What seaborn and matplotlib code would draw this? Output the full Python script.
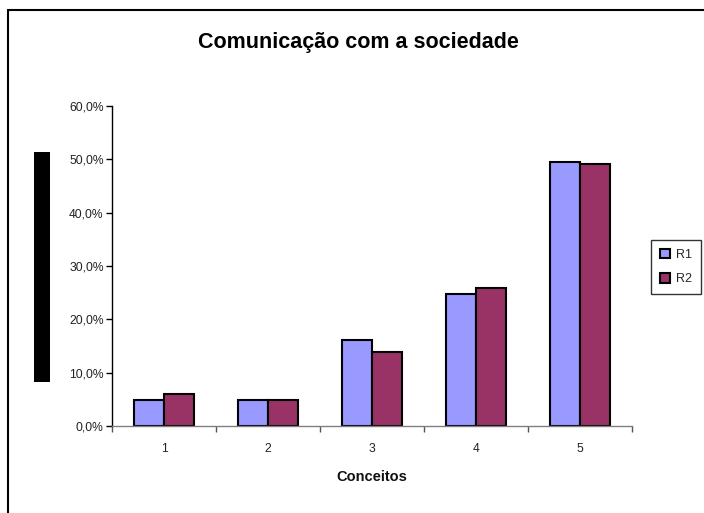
import matplotlib
matplotlib.use("Agg")
import matplotlib.pyplot as plt
import seaborn as sns
import pandas as pd
from matplotlib.patches import Rectangle
from matplotlib.lines import Line2D
from matplotlib.ticker import FuncFormatter, FixedLocator

categories = ["1", "2", "3", "4", "5"]
r1_values = [0.049, 0.049, 0.161, 0.248, 0.495]
r2_values = [0.060, 0.049, 0.139, 0.259, 0.492]
series_names = ["R1", "R2"]
colors = {"R1": "#9999FF", "R2": "#993366"}
y_ticks = [0.0, 0.1, 0.2, 0.3, 0.4, 0.5, 0.6]

df = pd.DataFrame({
    "Conceitos": categories * 2,
    "Valor": r1_values + r2_values,
    "Serie": ["R1"] * len(categories) + ["R2"] * len(categories),
})

sns.set_theme(style="white")
plt.rcParams["font.family"] = ["Liberation Sans", "DejaVu Sans"]

W, H = 704, 513
fig = plt.figure(figsize=(W / 100, H / 100), dpi=100)
fig.patch.set_facecolor("white")

ax_l, ax_r, ax_t, ax_b = 112, 632, 106, 426
ax = fig.add_axes([ax_l / W, 1 - ax_b / H, (ax_r - ax_l) / W, (ax_b - ax_t) / H])

sns.barplot(data=df, x="Conceitos", y="Valor", hue="Serie", order=categories,
            hue_order=series_names, palette=colors, width=0.58, gap=0,
            edgecolor="black", linewidth=1.5, saturation=1, ax=ax, legend=True)

ax.set_xlim(-0.5, len(categories) - 0.5)
ax.set_ylim(0, 0.6)
ax.set_yticks(y_ticks)
ax.yaxis.set_major_formatter(FuncFormatter(lambda v, p: f"{v*100:.1f}%".replace(".", ",")))
ax.tick_params(axis="y", which="major", direction="out", length=4, width=1, color="black",
               labelsize=8.7, labelcolor="#222222", pad=2, left=True)
ax.set_xticks(range(len(categories)))
ax.set_xticklabels(categories)
ax.tick_params(axis="x", which="major", length=0, labelsize=8.7, labelcolor="#222222", pad=12)
ax.xaxis.set_minor_locator(FixedLocator([i - 0.5 for i in range(len(categories) + 1)]))
ax.tick_params(axis="x", which="minor", direction="out", length=4, width=1, color="#555555", bottom=True)

for s in ["top", "right"]:
    ax.spines[s].set_visible(False)
ax.spines["left"].set_color("black")
ax.spines["left"].set_linewidth(1)
ax.spines["bottom"].set_color("#808080")
ax.spines["bottom"].set_linewidth(1)
ax.grid(False)
ax.set_ylabel("")
ax.set_xlabel("Conceitos", fontsize=10.5, fontweight="bold", labelpad=11, color="#111111")

handles, labels = ax.get_legend_handles_labels()
ax.legend_.remove()
leg = fig.legend(handles, labels, loc="upper left",
                 bbox_to_anchor=(651 / W, 1 - 240 / H), frameon=True, fancybox=False,
                 edgecolor="black", fontsize=9, handlelength=0.8, handleheight=0.8,
                 handletextpad=0.5, borderpad=0.7, labelspacing=1.0, borderaxespad=0)
leg.get_frame().set_linewidth(1)

fig.text(358 / W, 1 - 43 / H, "Comunicação com a sociedade",
         ha="center", va="center", fontsize=15.5, fontweight="bold", color="black")

# black block on the left (redacted axis title)
fig.add_artist(Rectangle((34 / W, 1 - 382 / H), 16 / W, 230 / H,
                         transform=fig.transFigure, facecolor="black", edgecolor="none"))

# figure border (left and top visible)
fig.add_artist(Line2D([8 / W, 8 / W], [0, 1 - 10 / H], transform=fig.transFigure,
                      color="black", linewidth=1.5))
fig.add_artist(Line2D([8 / W, 1], [1 - 10 / H, 1 - 10 / H], transform=fig.transFigure,
                      color="black", linewidth=1.5))

fig.savefig("out.png", dpi=100, facecolor="white")
